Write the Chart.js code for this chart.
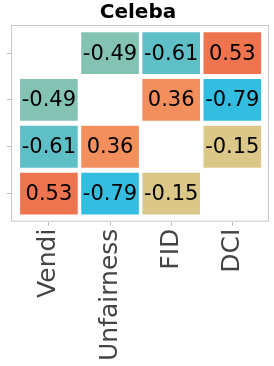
<!DOCTYPE html>
<html>
<head>
<meta charset="utf-8">
<script src="https://cdn.jsdelivr.net/npm/chart.js@4"></script>
<style>
  html, body { margin: 0; padding: 0; background: #fff; }
  #wrap { width: 274px; height: 366px; }
</style>
</head>
<body>
<div id="wrap"><canvas id="heat"></canvas></div>
<script>
// metric names (x labels, rows top -> bottom use same order)
const metrics = ['Vendi', 'Unfairness', 'FID', 'DCI'];

// pairwise correlations, diagonal left empty
const rowVendi      = [null, -0.49, -0.61, 0.53];
const rowUnfairness = [-0.49, null, 0.36, -0.79];
const rowFID        = [-0.61, 0.36, null, -0.15];
const rowDCI        = [0.53, -0.79, -0.15, null];
const corr = [rowVendi, rowUnfairness, rowFID, rowDCI];

// one colour per metric pair
const pairColor = {
  '-0.49': '#84c3b4',
  '-0.61': '#5fbfc6',
  '0.53': '#ed744e',
  '0.36': '#f28f5c',
  '-0.79': '#33bde0',
  '-0.15': '#dbc888'
};

const FONT = "'DejaVu Sans', sans-serif";
const half = 0.44; // half cell height in row units

// one bar dataset per row, floating bars [row-half, row+half]
const datasets = corr.map((row, r) => ({
  data: row.map((v, c) => ({ x: c, y: v === null ? null : [r - half, r + half], v: v })),
  backgroundColor: row.map(v => v === null ? 'transparent' : pairColor[v.toFixed(2)]),
  borderWidth: 0,
  barThickness: 57,
  grouped: false
}));

// frame round the plot area
const framePlugin = {
  id: 'frame',
  afterDraw(chart) {
    const a = chart.chartArea, ctx = chart.ctx;
    ctx.save();
    ctx.strokeStyle = '#c8c8c8';
    ctx.lineWidth = 1;
    ctx.strokeRect(a.left + 0.5, a.top + 0.5, a.right - a.left - 1, a.bottom - a.top - 1);
    ctx.restore();
  }
};

// value text inside each cell
const cellText = {
  id: 'cellText',
  afterDatasetsDraw(chart) {
    const ctx = chart.ctx;
    ctx.save();
    ctx.font = '21px ' + FONT;
    ctx.fillStyle = '#000';
    ctx.textAlign = 'center';
    ctx.textBaseline = 'middle';
    chart.data.datasets.forEach((ds, i) => {
      chart.getDatasetMeta(i).data.forEach((bar, j) => {
        const v = ds.data[j].v;
        if (v === null) return;
        const p = bar.getCenterPoint();
        ctx.fillText(v.toFixed(2), p.x, p.y + 1);
      });
    });
    ctx.restore();
  }
};

new Chart(document.getElementById('heat'), {
  type: 'bar',
  data: { datasets: datasets },
  options: {
    responsive: true,
    maintainAspectRatio: false,
    animation: false,
    layout: { padding: { left: 7, right: 5, top: 1, bottom: 2 } },
    plugins: {
      legend: { display: false },
      tooltip: { enabled: false },
      title: {
        display: true,
        text: 'Celeba',
        color: '#000',
        font: { family: FONT, size: 20, weight: 'bold' },
        padding: { top: 0, bottom: 0 }
      }
    },
    scales: {
      x: {
        type: 'linear',
        offset: false,
        min: -0.62,
        max: 3.6,
        afterBuildTicks: s => { s.ticks = metrics.map((_, i) => ({ value: i })); },
        grid: { drawOnChartArea: false, drawTicks: true, tickLength: 4, color: '#bbb', offset: false },
        border: { display: false },
        ticks: {
          autoSkip: false,
          minRotation: 90,
          maxRotation: 90,
          padding: 3,
          color: '#444',
          font: { family: FONT, size: 25 },
          callback: v => metrics[v]
        }
      },
      y: {
        type: 'linear',
        reverse: true,
        min: -0.6,
        max: 3.6,
        afterBuildTicks: s => { s.ticks = metrics.map((_, i) => ({ value: i })); },
        grid: { drawOnChartArea: false, drawTicks: true, tickLength: 4, color: '#bbb' },
        border: { display: false },
        ticks: { padding: 0, callback: () => '' }
      }
    }
  },
  plugins: [framePlugin, cellText]
});
</script>
</body>
</html>
